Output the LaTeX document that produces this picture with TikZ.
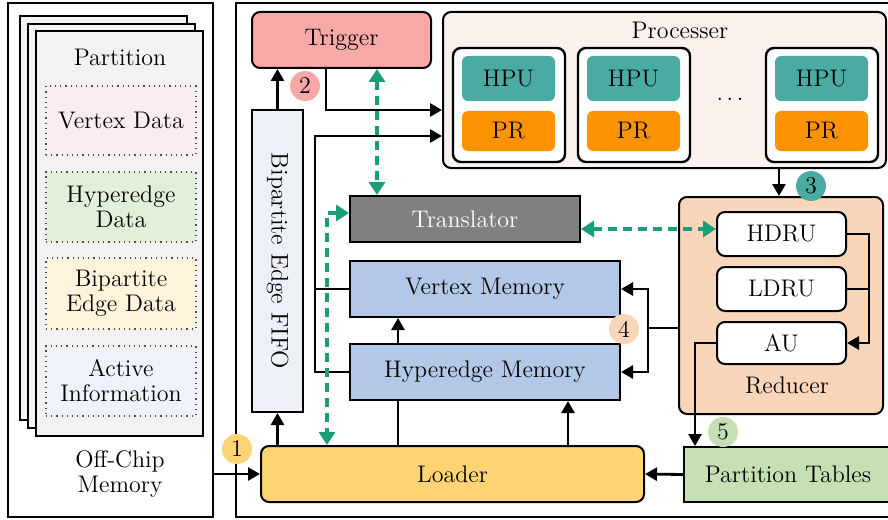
\documentclass[tikz,border=0pt]{standalone}
\usepackage{graphicx}
\usetikzlibrary{arrows.meta,positioning}
\definecolor{trigc}{HTML}{F8A8A7}
\definecolor{procc}{HTML}{FAF0EC}
\definecolor{hpuc}{HTML}{4AABA3}
\definecolor{prc}{HTML}{FE9302}
\definecolor{transc}{HTML}{808080}
\definecolor{memc}{HTML}{B3C8E7}
\definecolor{loadc}{HTML}{FED474}
\definecolor{redc}{HTML}{F9D5BA}
\definecolor{ptc}{HTML}{C5E0B4}
\definecolor{fifoc}{HTML}{EEF0F7}
\definecolor{pagec}{HTML}{F2F2F2}
\definecolor{vdc}{HTML}{FBEBF2}
\definecolor{hdc}{HTML}{E2F0D9}
\definecolor{bdc}{HTML}{FFF4DB}
\definecolor{aic}{HTML}{EEF2FB}
\definecolor{gline}{HTML}{1A9E78}
\tikzset{
  span/.style args={#1/#2/#3/#4}{at={({((#1)+(#3))/2},{((#2)+(#4))/2})},
    minimum width={((#3)-(#1))*0.5pt},minimum height={((#4)-(#2))*0.5pt}},
  blk/.style={draw,line width=1pt,inner sep=0pt,align=center,font=\fontsize{12}{12.5}\selectfont},
  rblk/.style={blk,rounded corners=4pt},
  sblk/.style={blk,draw=none,rounded corners=3pt},
  dblk/.style={blk,draw=black!70,line width=.6pt,dotted},
  txt/.style={inner sep=0pt,align=center,font=\fontsize{12}{12.5}\selectfont},
  num/.style={circle,minimum size=15pt,inner sep=0pt,font=\fontsize{12}{12.5}\selectfont},
  arr/.style={line width=1.4pt,-{Triangle[length=6pt,width=6.5pt]}},
  garr/.style={draw=gline,line width=1.8pt,dash pattern=on 4.5pt off 3pt,
    {Triangle[length=6.5pt,width=8pt]}-{Triangle[length=6.5pt,width=8pt]}}
}
\begin{document}
\begin{tikzpicture}[x=0.5pt,y=-0.5pt,semithick]
\useasboundingbox (0,0) rectangle (888,519);
\node[blk,span=8/3/213/517] (offchip) {};
\node[blk,fill=pagec,span=20/16/187/420] (pg3) {};
\node[blk,fill=pagec,span=28/24/195/428] (pg2) {};
\node[blk,fill=pagec,span=36/31/203/436] (pg1) {};
\node[txt] (part) at (120,57) {Partition};
\node[dblk,fill=vdc,span=46/86/196/155] (vdata) {Vertex Data};
\node[dblk,fill=hdc,span=46/172/196/242] (hdata) {Hyperedge\\Data};
\node[dblk,fill=bdc,span=46/258/196/329] (bdata) {Bipartite\\Edge Data};
\node[dblk,fill=aic,span=46/346/196/416] (adata) {Active\\Information};
\node[txt] (offlbl) at (120,474) {Off-Chip\\Memory};
\node[blk,span=236/3/892/517] (chip) {};
\node[rblk,fill=procc,span=443/12/886/168] (proc) {};
\node[txt] (proclbl) at (680,30) {Processer};
\foreach \i/\x in {1/453,2/578,3/766}{
  \node[rblk,fill=white,line width=1.2pt,span=\x/48/\x+112/162] (pe\i) {};
  \node[sblk,fill=hpuc,span=\x+9/56/\x+102/101] (hpu\i) {HPU};
  \node[sblk,fill=prc,span=\x+9/111/\x+102/151] (pr\i) {PR};
}
\node[txt] (dots) at (730,99) {.\kern1.8pt.\kern1.8pt.};
\node[rblk,fill=trigc,span=252/12/431/68] (trigger) {Trigger};
\node[blk,fill=fifoc,span=252/110/303/412] (fifo) {\rotatebox{-90}{Bipartite Edge FIFO}};
\node[blk,fill=transc,text=white,span=350/196/580/242] (trans) {Translator};
\node[blk,fill=memc,span=350/261/620/317] (vm) {Vertex Memory};
\node[blk,fill=memc,span=350/344/620/400] (hm) {Hyperedge Memory};
\node[rblk,fill=loadc,span=261/446/644/502] (loader) {Loader};
\node[rblk,fill=redc,span=679/197/883/414] (red) {};
\node[txt] (redlbl) at (787,385) {Reducer};
\node[rblk,fill=white,span=717/212/846/256] (hdru) {HDRU};
\node[rblk,fill=white,span=717/267/846/311] (ldru) {LDRU};
\node[rblk,fill=white,span=717/322/846/364] (au) {AU};
\node[blk,fill=ptc,span=684/447/892/502] (pt) {Partition Tables};
\coordinate (xa) at (326,110);
\coordinate (xb) at (315,136);
\coordinate (xc) at (377,0);
\coordinate (xd) at (327,213);
\coordinate (ye) at (0,229);
\coordinate (xf) at (398,0);
\coordinate (xg) at (568,0);
\coordinate (xh) at (779,0);
\coordinate (xi) at (869,0);
\coordinate (xj) at (648,328);
\coordinate (xk) at (695,0);
\draw[arr] (fifo.north) -- (fifo.north |- trigger.south);
\draw[arr] (trigger.south -| xa) |- (proc.west |- xa);
\draw[arr] (hm.west) -| (xb) -- (proc.west |- xb);
\draw[line width=1.4pt] (vm.west) -- (vm.west -| xb);
\draw[garr] (trigger.south -| xc) -- (trans.north -| xc);
\draw[garr] (trans.west |- xd) -| (loader.north -| xd);
\draw[garr] (trans.east |- ye) -- (hdru.west |- ye);
\draw[arr] (hm.north -| xf) -- (vm.south -| xf);
\draw[line width=1.4pt] (loader.north -| xf) -- (hm.south -| xf);
\draw[arr] (loader.north -| xg) -- (hm.south -| xg);
\draw[arr] (loader.north -| fifo.south) -- (fifo.south);
\draw[arr] (offchip.east |- loader.west) -- (loader.west);
\draw[arr] (pt.west) -- (loader.east);
\draw[arr] (proc.south -| xh) -- (red.north -| xh);
\draw[arr] (hdru.east) -- (hdru.east -| xi) |- (au.east);
\draw[line width=1.4pt] (ldru.east) -- (ldru.east -| xi);
\draw[line width=1.4pt] (red.west |- xj) -- (xj);
\draw[arr] (xj) |- (vm.east);
\draw[arr] (xj) |- (hm.east);
\draw[arr] (au.west) -| (pt.north -| xk);
\node[num,fill=loadc] (n1) at (237,449) {1};
\node[num,fill=trigc] (n2) at (305,86) {2};
\node[num,fill=hpuc] (n3) at (811,186) {3};
\node[num,fill=redc] (n4) at (624,329) {4};
\node[num,fill=ptc] (n5) at (723,432) {5};
\end{tikzpicture}
\end{document}
